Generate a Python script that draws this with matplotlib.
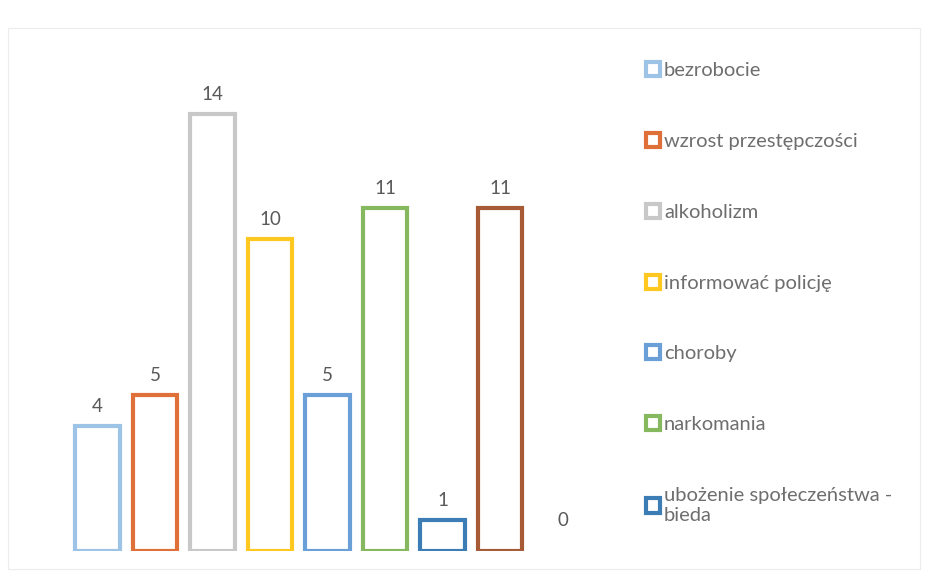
import matplotlib.pyplot as plt
from matplotlib.patches import Rectangle

plt.rcParams['font.family'] = ['Lato', 'DejaVu Sans']

# legend shows only the first seven categories (the rest are cut off in the source)
categories = ['bezrobocie', 'wzrost przestępczości', 'alkoholizm', 'informować policję',
              'choroby', 'narkomania', 'ubożenie społeczeństwa -\nbieda', '', '']
values = [4, 5, 14, 10, 5, 11, 1, 11, 0]
colors = ['#9dc3e6', '#e0703a', '#c8c8c8', '#ffc820', '#6a9fd8',
          '#86b85f', '#3d7db5', '#a65a35', '#7f7f7f']
n_legend = 7

fig = plt.figure(figsize=(9.26, 5.76), dpi=100)
ax = fig.add_axes([0.0742, 0.0434, 0.5589, 0.8125])

x = list(range(len(values)))
bars = ax.bar(x, values, width=0.77, facecolor='white', edgecolor=colors, linewidth=3)
for b, v in zip(bars, values):
    if v == 0:
        b.set_linewidth(0)

for xi, v in zip(x, values):
    ax.annotate(str(v), (xi + (0.1 if v == 0 else 0), v), xytext=(0, 8 if v else 16),
                textcoords='offset points', ha='center', va='bottom',
                fontsize=13.5, color='#595959')

ax.set_xlim(-0.5, 8.5)
ax.set_ylim(0, 15)
ax.axis('off')

fig.legend(bars[:n_legend], categories[:n_legend], loc='upper left',
           bbox_to_anchor=(0.678, 0.924), frameon=False, fontsize=14.5,
           labelcolor='#6e6e6e', labelspacing=2.67, handlelength=0.7,
           handleheight=0.7, handletextpad=0.2)

# faint outer chart frame from the scan
fig.patches.append(Rectangle((0.009, 0.012), 0.985, 0.94, transform=fig.transFigure,
                             fill=False, edgecolor='#ececec', linewidth=0.8))

fig.savefig('out.png', dpi=100)
